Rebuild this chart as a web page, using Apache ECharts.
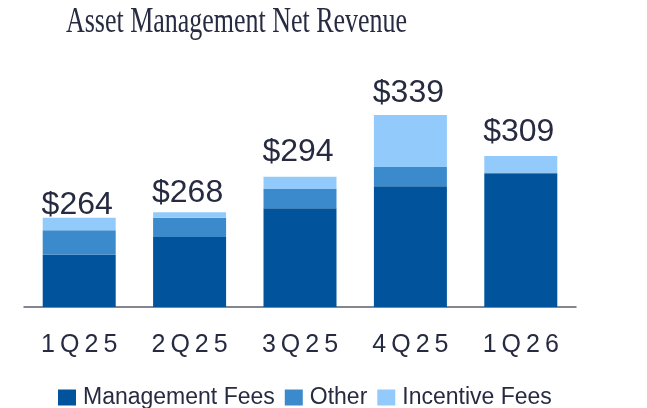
<!DOCTYPE html>
<html>
<head>
<meta charset="utf-8">
<script src="https://cdn.jsdelivr.net/npm/echarts@6/dist/echarts.min.js"></script>
<style>
  html, body { margin: 0; padding: 0; background: #ffffff; }
  #chart { width: 647px; height: 408px; }
</style>
</head>
<body>
<div id="chart"></div>
<script>
var QUARTERS = ['1Q25', '2Q25', '3Q25', '4Q25', '1Q26'];
var MANAGEMENT_FEES = [237, 250, 271, 287, 296];
var OTHER = [18, 14, 14, 14, 1];
var INCENTIVE_FEES = [9, 4, 9, 38, 12];
var TOTALS = [264, 268, 294, 339, 309];

var TEXT_COLOR = '#272b41';
// the total labels sit at uneven heights above the bars in the original
var LABEL_GAP = [-3, 3, 8, 6, 8];

// spread the quarter labels out a bit, like the letter spacing in the original
function spaced(s) {
  return s.split('').join('\u2009');
}

var CHART = echarts.init(document.getElementById('chart'), null, { renderer: 'canvas' });

var incentiveData = INCENTIVE_FEES.map(function (v, i) {
  return { value: v, label: { distance: LABEL_GAP[i] } };
});

var OPTION = {
  animation: false,
  backgroundColor: '#ffffff',
  graphic: [
    {
      type: 'text',
      left: 66,
      top: 5,
      scaleX: 0.742,
      style: {
        text: 'Asset Management Net Revenue',
        fontSize: 35,
        fontFamily: 'Liberation Serif',
        fill: TEXT_COLOR
      }
    }
  ],
  grid: {
    left: 24,
    right: 71,
    top: 60,
    bottom: 101,
    containLabel: false
  },
  legend: {
    left: 58,
    top: 386,
    padding: 0,
    itemWidth: 18,
    itemHeight: 16,
    itemGap: 10,
    icon: 'rect',
    textStyle: {
      color: TEXT_COLOR,
      fontSize: 23,
      fontFamily: 'Liberation Sans',
      padding: [0, 0, 4, 2]
    },
    data: ['Management Fees', 'Other', 'Incentive Fees']
  },
  xAxis: {
    type: 'category',
    data: QUARTERS,
    axisLine: { lineStyle: { color: '#5b5f6e', width: 1.5 } },
    axisTick: { show: false },
    axisLabel: {
      color: TEXT_COLOR,
      fontSize: 25,
      fontFamily: 'Liberation Sans',
      margin: 26,
      formatter: function (v) { return spaced(v); }
    }
  },
  yAxis: {
    type: 'value',
    min: 199,
    max: 379,
    show: false,
    splitLine: { show: false }
  },
  series: [
    {
      name: 'Management Fees',
      type: 'bar',
      stack: 'rev',
      barWidth: 73,
      itemStyle: { color: '#01539b' },
      data: MANAGEMENT_FEES
    },
    {
      name: 'Other',
      type: 'bar',
      stack: 'rev',
      itemStyle: { color: '#3b8acb' },
      data: OTHER
    },
    {
      name: 'Incentive Fees',
      type: 'bar',
      stack: 'rev',
      itemStyle: { color: '#92cbfb' },
      label: {
        show: true,
        position: 'top',
        offset: [-2, 0],
        color: TEXT_COLOR,
        fontSize: 32,
        fontFamily: 'Liberation Sans',
        formatter: function (p) { return '$' + TOTALS[p.dataIndex]; }
      },
      data: incentiveData
    }
  ]
};

CHART.setOption(OPTION);
</script>
</body>
</html>
